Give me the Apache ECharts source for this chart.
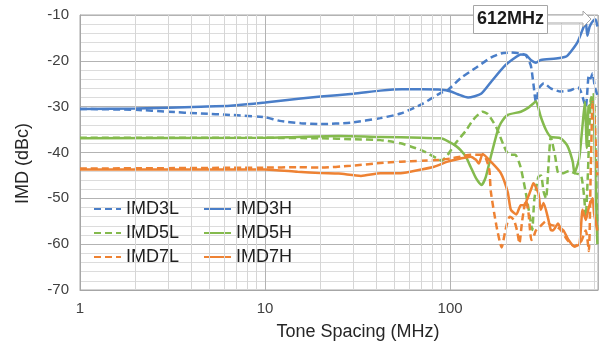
<!DOCTYPE html>
<html>
<head>
<meta charset="utf-8">
<script src="https://cdn.jsdelivr.net/npm/echarts@6/dist/echarts.min.js"></script>
<style>
html,body{margin:0;padding:0;background:#fff;}
#chart{width:603px;height:347px;}
</style>
</head>
<body>
<div id="chart"></div>
<script>
// ---- data (Tone spacing in MHz, IMD in dBc) ----
const seriesNames = ['IMD3L', 'IMD3H', 'IMD5L', 'IMD5H', 'IMD7L', 'IMD7H'];
const yTicks = [-70, -60, -50, -40, -30, -20, -10];
const xLabelTicks = [1, 10, 100];
const xMinorGrid = [2,3,4,5,6,7,8,9,20,30,40,50,60,70,80,90,200,300,400,500,600];
const annotationText = '612MHz';

const imd3L = [[1,-30.5],[2,-30.7],[3,-31.1],[4.5,-31.5],[6.5,-31.8],[10,-32.3],[12,-33.1],[15.6,-33.6],[20,-33.8],[29,-33.5],[42,-32.5],[54,-31.5],[70,-29.5],[89,-27],[97,-26.4],[114,-23.8],[138,-21.5],[166,-19.3],[188,-18.4],[213,-18.2],[241,-18.4],[257,-18.8],[273,-21],[282,-25],[291,-29],[302,-26],[321,-24.9],[350,-26],[396,-26.7],[449,-26.4],[490,-25.8],[509,-26.7],[541,-30],[562,-23.1],[575,-23.8],[589,-22.7],[605,-25.6],[625,-27.5]];
const imd3H = [[1,-30.5],[2,-30.4],[4.5,-30.0],[6.5,-29.8],[10,-29.1],[15.6,-28.2],[20,-27.8],[30,-27.2],[42,-26.5],[55,-26.2],[70,-26.2],[90,-26.3],[101,-26.7],[110,-27.3],[125,-28.0],[147,-27.2],[168,-24.4],[195,-21.3],[221,-19.5],[241,-18.6],[257,-18.7],[273,-19.8],[291,-20.4],[309,-19.8],[373,-19.5],[422,-19.1],[449,-18.0],[490,-15.8],[528,-12.5],[541,-11.5],[552,-14.5],[568,-12.5],[595,-11.2],[612,-11.0],[625,-12.5]];
const imd5L = [[1,-36.8],[10,-36.8],[20,-36.9],[30,-37.1],[42,-37.3],[54,-38],[70,-39.5],[85,-41.3],[90,-41.8],[97,-40.5],[107,-38],[122,-35.2],[133,-32.9],[150,-31.1],[160,-31.6],[172,-33.5],[180,-35],[195,-38.5],[202,-39.8],[210,-40.5],[225,-40.5],[240,-43.1],[255,-48.2],[270,-54],[278,-56.9],[285,-50.4],[300,-45.3],[310,-45],[320,-48.5],[330,-50],[340,-43],[350,-36.6],[370,-40.9],[385,-44.5],[410,-44.5],[440,-44],[470,-44.5],[510,-45],[530,-49.6],[541,-54],[555,-45],[575,-28.5],[595,-27],[605,-32.2],[625,-57]];
const imd5H = [[1,-36.9],[10,-36.8],[15,-36.6],[25,-36.4],[42,-36.6],[70,-36.8],[89,-36.9],[97,-37.5],[107,-38.5],[114,-39.5],[122,-41],[129,-43.1],[138,-45.6],[148,-47.1],[156,-45.3],[166,-40.9],[180,-35.5],[188,-33.6],[205,-31.8],[241,-31.1],[265,-30.2],[282,-29.3],[291,-28.8],[309,-32.2],[330,-35.1],[350,-36.6],[396,-36.9],[430,-38.5],[460,-42],[470,-44.5],[485,-43.1],[500,-41],[520,-34],[535,-29],[548,-39],[560,-30],[575,-29.5],[595,-28],[605,-40],[625,-60]];
const imd7L = [[1,-43.5],[10,-43.3],[15,-43.2],[20,-43.3],[29,-42.9],[42,-42.3],[54,-42],[70,-41.8],[89,-41.6],[101,-41.3],[114,-40.9],[129,-40.5],[147,-40.5],[156,-41.3],[163,-43.8],[166,-48.5],[178,-56],[190,-60.7],[199,-57],[210,-54],[221,-54.7],[230,-57],[237,-59.8],[245,-55],[257,-50.4],[265,-53],[275,-59.1],[282,-58.5],[291,-57],[309,-56],[330,-55],[350,-55.8],[370,-56],[396,-56.9],[430,-59.1],[470,-60.5],[509,-59.5],[541,-57],[562,-61.5],[575,-45],[589,-29],[600,-31],[612,-38],[625,-45]];
const imd7H = [[1,-43.7],[10,-43.7],[15,-44.2],[20,-44.5],[25,-44.6],[33,-45.1],[42,-44.5],[54,-44.5],[70,-43.7],[82,-43.1],[97,-42],[114,-41.3],[129,-40.9],[138,-41.6],[143,-42.4],[150,-40.3],[166,-42],[188,-44.5],[205,-48.7],[213,-52.5],[228,-53.5],[241,-51.5],[250,-51.5],[273,-48.2],[282,-46.7],[300,-48.9],[309,-52.5],[320,-51],[340,-54.7],[350,-56.9],[360,-57],[383,-55.5],[396,-56.5],[410,-57],[437,-59.1],[470,-60.5],[500,-60],[520,-52.5],[541,-54.7],[562,-52],[589,-50],[600,-53.3],[625,-57]];

const seriesData = [imd3L, imd3H, imd5L, imd5H, imd7L, imd7H];
const seriesColors = ['#4A7EC8', '#4A7EC8', '#84BA4D', '#84BA4D', '#EE8233', '#EE8233'];
const seriesDashed = [true, false, true, false, true, false];

const FONT = "'Liberation Sans', Arial, sans-serif";
const chart = echarts.init(document.getElementById('chart'), null, {renderer: 'canvas'});

const lineSeries = seriesNames.map((name, i) => ({
  name: name,
  type: 'line',
  data: seriesData[i],
  showSymbol: false,
  symbol: 'none',
  smooth: 0.2,
  z: 3,
  lineStyle: {
    color: seriesColors[i],
    width: 2.5,
    type: seriesDashed[i] ? [7, 4] : 'solid'
  },
  itemStyle: {color: seriesColors[i]}
}));

lineSeries.unshift({
  type: 'line',
  data: [],
  z: 1,
  silent: true,
  markLine: {
    silent: true,
    symbol: ['none', 'none'],
    label: {show: false},
    lineStyle: {color: '#d6d6d6', type: 'solid', width: 1},
    animation: false,
    data: xMinorGrid.map(v => ({xAxis: v}))
  }
});

const legendCommon = {
  orient: 'vertical',
  itemWidth: 27,
  itemHeight: 14,
  itemGap: 6,
  top: 200,
  padding: 0,
  itemStyle: {opacity: 0},
  textStyle: {fontSize: 18, color: '#1f1f1f', fontFamily: FONT},
  selectedMode: false
};

chart.setOption({
  animation: false,
  backgroundColor: '#fff',
  grid: {left: 80, right: 5, top: 15, bottom: 57, show: true, borderColor: '#a6a6a6', borderWidth: 1, containLabel: false},
  legend: [
    Object.assign({}, legendCommon, {left: 93, data: [seriesNames[0], seriesNames[2], seriesNames[4]]}),
    Object.assign({}, legendCommon, {left: 203, data: [seriesNames[1], seriesNames[3], seriesNames[5]]})
  ],
  xAxis: {
    type: 'log',
    logBase: 10,
    min: 1,
    max: 630,
    name: 'Tone Spacing (MHz)',
    nameLocation: 'middle',
    nameGap: 33,
    nameTextStyle: {fontSize: 18, color: '#262626', fontFamily: FONT, padding: [0, 0, 0, 38]},
    axisLine: {show: true, lineStyle: {color: '#a6a6a6'}},
    axisTick: {show: false},
    axisLabel: {
      fontSize: 15, color: '#404040', fontFamily: FONT, margin: 11,
      showMaxLabel: false,
      formatter: function (v) {
        const l = Math.log10(v);
        return Math.abs(l - Math.round(l)) < 1e-6 && xLabelTicks.indexOf(Math.round(v)) >= 0 ? String(Math.round(v)) : '';
      }
    },
    splitLine: {show: true, lineStyle: {color: '#b3b3b3', width: 1}}
  },
  yAxis: {
    type: 'value',
    min: yTicks[0],
    max: yTicks[yTicks.length - 1],
    interval: 10,
    name: 'IMD (dBc)',
    nameLocation: 'middle',
    nameGap: 48,
    nameTextStyle: {fontSize: 18, color: '#262626', fontFamily: FONT, padding: [0, 22, 0, 0]},
    axisLine: {show: true, lineStyle: {color: '#a6a6a6'}},
    axisTick: {show: false},
    axisLabel: {fontSize: 15, color: '#404040', fontFamily: FONT, margin: 11},
    splitLine: {show: true, lineStyle: {color: '#b3b3b3', width: 1}},
    minorTick: {show: false, splitNumber: 5},
    minorSplitLine: {show: true, lineStyle: {color: '#dcdcdc', width: 1}}
  },
  series: lineSeries,
  graphic: [
    {
      type: 'polygon',
      z: 100,
      shape: {points: [[547, 15], [583, 15], [583, 11], [591, 19], [583, 27], [583, 23], [547, 23]]},
      style: {fill: '#ffffff', stroke: '#a6a6a6', lineWidth: 1}
    },
    {
      type: 'rect',
      z: 101,
      shape: {x: 473.5, y: 5.5, width: 74, height: 28},
      style: {fill: '#ffffff', stroke: '#a6a6a6', lineWidth: 1}
    },
    {
      type: 'text',
      z: 102,
      x: 510.5,
      y: 19.5,
      style: {text: annotationText, fill: '#1a1a1a', font: "bold 18px 'Liberation Sans', Arial, sans-serif", align: 'center', verticalAlign: 'middle'}
    }
  ]
});
</script>
</body>
</html>
